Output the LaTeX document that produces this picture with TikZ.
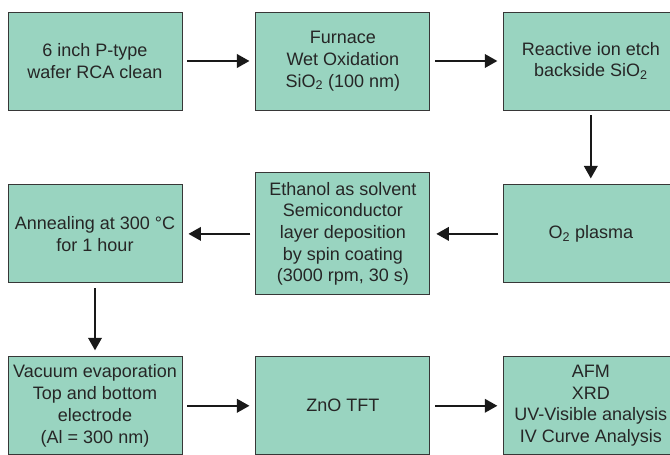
\documentclass[tikz,border=0pt]{standalone}
\usepackage{fontspec}
\setmainfont{Liberation Sans}
\usepackage{tikz}
\usetikzlibrary{arrows.meta,positioning}

\definecolor{stepfill}{RGB}{153,212,192}
\definecolor{stepline}{RGB}{55,55,55}

\begin{document}
\begin{tikzpicture}[x=1pt, y=1pt, >={Triangle[length=12.5pt, width=13.5pt]},
  stepbox/.style={draw=stepline, line width=0.9pt, fill=stepfill, align=center,
    minimum width=174pt, minimum height=98pt, inner sep=2pt,
    font=\fontsize{18}{21.7}\selectfont, text=black!85},
  flow/.style={->, line width=2pt, draw=black!90, shorten <=5pt, shorten >=6pt}]
  \useasboundingbox (0,0) rectangle (670,455);
  \clip (0,0) rectangle (670,455);

  % first row
  \node[stepbox] (wafer) at (95,394) {6 inch P-type\\wafer RCA clean};
  \node[stepbox, right=73pt of wafer] (oxid) {Furnace\\Wet Oxidation\\SiO\textsubscript{2} (100 nm)};
  \node[stepbox, right=73pt of oxid] (rie) {Reactive ion etch\\backside SiO\textsubscript{2}};

  % second row, right to left
  \node[stepbox, below=74pt of rie] (plasma) {O\textsubscript{2} plasma};
  \node[stepbox, minimum height=122pt, left=73pt of plasma] (spin)
       {Ethanol as solvent\\Semiconductor\\layer deposition\\by spin coating\\(3000 rpm, 30 s)};
  \node[stepbox, left=73pt of spin] (anneal) {Annealing at 300 °C\\for 1 hour};

  % third row
  \node[stepbox, below=73pt of anneal] (evap) {Vacuum evaporation\\Top and bottom\\electrode\\(Al = 300 nm)};
  \node[stepbox, right=73pt of evap] (tft) {ZnO TFT};
  \node[stepbox, right=73pt of tft] (charac) {AFM\\XRD\\UV-Visible analysis\\IV Curve Analysis};

  % arrows
  \draw[flow] (wafer) -- (oxid);
  \draw[flow] (oxid) -- (rie);
  \draw[flow] (rie) -- (plasma);
  \draw[flow] (plasma) -- (spin);
  \draw[flow] (spin) -- (anneal);
  \draw[flow] (anneal) -- (evap);
  \draw[flow] (evap) -- (tft);
  \draw[flow] (tft) -- (charac);
\end{tikzpicture}
\end{document}
